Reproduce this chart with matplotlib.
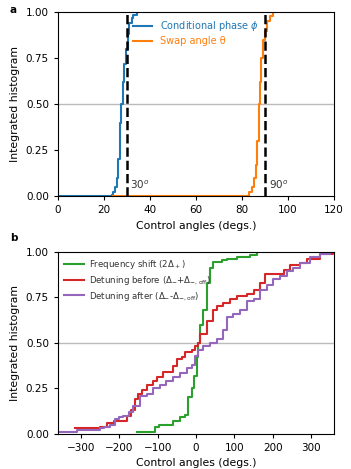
import matplotlib
matplotlib.use("Agg")
import matplotlib.pyplot as plt


# panel a: cumulative curves (corner points of the steps)
phase_x = [0, 23.3, 24.0, 24.8, 25.5, 26.2, 26.9, 27.6, 28.4, 28.8, 29.5, 30.3, 31.0, 32.0, 32.7, 34.2]
phase_y = [0, 0.005, 0.02, 0.05, 0.10, 0.20, 0.40, 0.50, 0.62, 0.72, 0.80, 0.88, 0.94, 0.97, 0.985, 1.0]

swap_x = [24, 83.1, 84.1, 85.1, 86.0, 86.6, 87.4, 88.0, 88.4, 89.2, 89.9, 91.0, 92.0, 93.5]
swap_y = [0, 0.02, 0.05, 0.10, 0.17, 0.30, 0.50, 0.62, 0.75, 0.85, 0.90, 0.95, 0.98, 1.0]

ref_angles = [30, 90]
ref_labels = ["30$^o$", "90$^o$"]

# panel b
freq_x = [-153, -107, -96, -59, -42, -29, -20, -11, -4, 2, 6, 10, 19, 28, 37, 45, 67, 80, 106, 141, 158]
freq_y = [0.01, 0.04, 0.05, 0.07, 0.095, 0.105, 0.2, 0.25, 0.32, 0.42, 0.5, 0.6, 0.68, 0.83, 0.91, 0.945, 0.955, 0.96, 0.97, 0.98, 1.0]

before_x = [-316, -250, -232, -215, -181, -170, -160, -150, -140, -129, -111, -103, -85, -59, -50, -37,
            -29, -11, -3, 6, 10, 28, 45, 54, 71, 89, 106, 132, 150, 167, 180, 210, 228, 245, 271, 289, 323, 358]
before_y = [0.03, 0.04, 0.06, 0.07, 0.10, 0.13, 0.19, 0.22, 0.24, 0.27, 0.29, 0.31, 0.34, 0.37, 0.41, 0.42,
            0.45, 0.46, 0.48, 0.50, 0.55, 0.62, 0.68, 0.70, 0.72, 0.74, 0.76, 0.77, 0.79, 0.83, 0.88, 0.88, 0.90, 0.93, 0.94, 0.96, 0.99, 1.0]

after_x = [-360, -310, -250, -240, -225, -210, -200, -190, -175, -165, -146, -129, -111, -94, -77, -59, -42,
           -24, -11, -2, 6, 19, 37, 54, 71, 80, 97, 115, 132, 150, 167, 184, 201, 219, 236, 254, 271, 297, 323, 349]
after_y = [0.01, 0.02, 0.03, 0.04, 0.05, 0.08, 0.09, 0.10, 0.12, 0.155, 0.21, 0.22, 0.25, 0.27, 0.29, 0.31, 0.335,
           0.36, 0.38, 0.43, 0.46, 0.485, 0.50, 0.52, 0.57, 0.64, 0.66, 0.68, 0.73, 0.74, 0.79, 0.82, 0.85, 0.87, 0.895, 0.91, 0.94, 0.97, 0.99, 1.0]

y_ticks = [0, 0.25, 0.5, 0.75, 1.0]


def draw_panel_a(ax):
  """Cumulative histograms of the gate angles"""
  ax.axhline(0.5, color="#bbbbbb", lw=1, zorder=0)
  l1, = ax.step(phase_x, phase_y, where="post", color="#1f77b4", lw=1.5, label="Conditional phase $\\phi$")
  l2, = ax.step(swap_x, swap_y, where="post", color="#ff7f0e", lw=1.5, label="Swap angle θ")
  for ang, lab in zip(ref_angles, ref_labels):
    ax.axvline(ang, color="black", ls="--", lw=1.8)
    ax.text(ang + 1.5, 0.04, lab, fontsize=7.5, color="#333333")
  leg = ax.legend(loc="upper center", bbox_to_anchor=(0.5, 1.0), frameon=False, fontsize=7,
                  handlelength=2.0, borderaxespad=0.3, labelspacing=0.35)
  for txt, line in zip(leg.get_texts(), [l1, l2]):
    txt.set_color(line.get_color())
  ax.set_xlim(0, 120)
  ax.set_ylim(0, 1)
  ax.set_yticks(y_ticks)
  ax.set_xlabel("Control angles (degs.)", fontsize=7.8)
  ax.set_ylabel("Integrated histogram", fontsize=7.8)


def draw_panel_b(ax):
  """Cumulative histograms of the detunings"""
  ax.axhline(0.5, color="#bbbbbb", lw=1, zorder=0)
  ax.step(freq_x, freq_y, where="post", color="#2ca02c", lw=1.5, label="Frequency shift (2$\\Delta_+$)")
  ax.step(before_x, before_y, where="post", color="#d62728", lw=1.5,
          label="Detuning before ($\\Delta_{-}$+$\\Delta_{-,\\mathrm{off}}$)")
  ax.step(after_x, after_y, where="post", color="#9467bd", lw=1.5,
          label="Detuning after ($\\Delta_{-}$-$\\Delta_{-,\\mathrm{off}}$)")
  leg = ax.legend(loc="upper left", frameon=False, fontsize=6.2, handlelength=2.3, borderaxespad=0.3,
                  labelspacing=0.35, handletextpad=0.6)
  for txt in leg.get_texts():
    txt.set_color("#333333")
  ax.set_xlim(-360, 360)
  ax.set_ylim(0, 1)
  ax.set_yticks(y_ticks)
  ax.set_xticks([-300, -200, -100, 0, 100, 200, 300])
  ax.set_xlabel("Control angles (degs.)", fontsize=7.8)
  ax.set_ylabel("Integrated histogram", fontsize=7.8)


def main():
  fig = plt.figure(figsize=(3.51, 4.69), dpi=100)
  ax_a = fig.add_axes([0.165, 0.582, 0.787, 0.392])
  ax_b = fig.add_axes([0.165, 0.075, 0.787, 0.388])
  for ax in (ax_a, ax_b):
    ax.tick_params(labelsize=7.5, length=3, width=0.8)
  draw_panel_a(ax_a)
  draw_panel_b(ax_b)
  fig.text(0.028, 0.978, "a", fontsize=7.5, fontweight="bold", va="center")
  fig.text(0.028, 0.493, "b", fontsize=7.5, fontweight="bold", va="center")
  fig.savefig("out.png", dpi=100)


if __name__ == "__main__":
  main()
